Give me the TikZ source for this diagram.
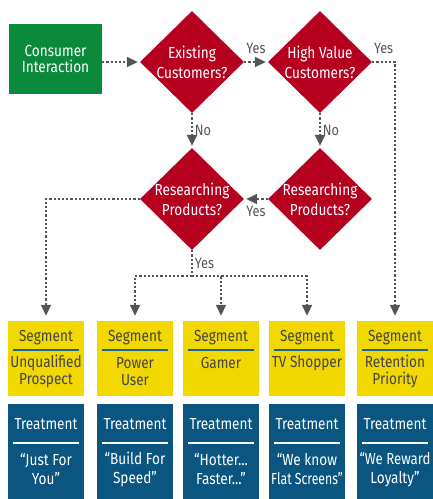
\documentclass[tikz,border=0pt]{standalone}
\usepackage{fontspec}
\setmainfont[FakeStretch=0.85]{Fira Sans}
\usetikzlibrary{shapes.geometric,arrows.meta,positioning}

\definecolor{cigreen}{HTML}{0B8A3C}
\definecolor{decred}{HTML}{B50020}
\definecolor{segyellow}{HTML}{F0D800}
\definecolor{treatblue}{HTML}{0A5681}
\definecolor{ruleblue}{HTML}{1E6491}
\definecolor{flowgray}{HTML}{555555}
\definecolor{segtext}{HTML}{454545}

\tikzset{
  startbox/.style={fill=cigreen, text=white, minimum width=93pt, minimum height=70pt,
    align=center, font=\fontsize{16}{16}\selectfont},
  decision/.style={diamond, fill=decred, text=white, minimum width=104pt, minimum height=102pt,
    inner sep=-8pt, align=center, font=\fontsize{16}{20}\selectfont},
  flow/.style={draw=flowgray, line width=1.6pt, dash pattern=on 2.2pt off 2pt},
  flowarrow/.style={flow, -{Triangle[width=10pt,length=11pt]}, shorten >=2pt},
  flowlabel/.style={text=flowgray, inner sep=2pt, font=\fontsize{15}{15}\selectfont},
  segbox/.style={fill=segyellow, minimum width=76pt, minimum height=75pt},
  seghead/.style={text=segtext, minimum width=65pt, minimum height=24pt, inner sep=0pt,
    font=\fontsize{16}{16}\selectfont},
  segbody/.style={text=segtext, align=center, inner sep=0pt, font=\fontsize{16}{17}\selectfont},
  segrule/.style={draw=ruleblue, line width=1.5pt},
  treatbox/.style={fill=treatblue, minimum width=76pt, minimum height=95pt},
  treathead/.style={text=white, minimum width=65pt, minimum height=38pt, inner sep=0pt,
    font=\fontsize{16}{16}\selectfont},
  treatbody/.style={text=white, align=center, inner sep=0pt, font=\fontsize{16}{19}\selectfont},
  treatrule/.style={draw=white, line width=1.5pt}
}

\begin{document}
\begin{tikzpicture}[x=1pt, y=-1pt]
  \useasboundingbox (0,0) rectangle (432,499);

  % decisions
  \node[startbox] (consumer) at (55.5,59) {Consumer\\Interaction};
  \node[decision] (existing) at (192,62) {Existing\\Customers?};
  \node[decision] (highvalue) at (320,62) {High Value\\Customers?};
  \node[decision] (research1) at (192,199) {Researching\\Products?};
  \node[decision] (research2) at (320,199) {Researching\\Products?};
  \coordinate (split) at (192,276);

  % segments
  \node[segbox] (seg1) at (46,358.5) {};
  \node[seghead] (seg1h) at (46,338) {Segment};
  \node[segbody] (seg1b) at (46,371.5) {Unqualified\\Prospect};
  \node[segbox] (seg2) at (135,358.5) {};
  \node[seghead] (seg2h) at (135,338) {Segment};
  \node[segbody] (seg2b) at (135,371.5) {Power\\User};
  \node[segbox] (seg3) at (221,358.5) {};
  \node[seghead] (seg3h) at (221,338) {Segment};
  \node[segbody] (seg3b) at (221,363) {Gamer};
  \node[segbox] (seg4) at (307,358.5) {};
  \node[seghead] (seg4h) at (307,338) {Segment};
  \node[segbody] (seg4b) at (307,363) {TV Shopper};
  \node[segbox] (seg5) at (395,358.5) {};
  \node[seghead] (seg5h) at (395,338) {Segment};
  \node[segbody] (seg5b) at (395,371.5) {Retention\\Priority};
  \foreach \n in {seg1h,seg2h,seg3h,seg4h,seg5h}
    \draw[segrule] (\n.south west) -- (\n.south east);

  % treatments
  \node[treatbox] (treat1) at (46,451.5) {};
  \node[treathead] (treat1h) at (46,424) {Treatment};
  \node[treatbody] (treat1b) at (46,469.5) {“Just For\\You”};
  \node[treatbox] (treat2) at (135,451.5) {};
  \node[treathead] (treat2h) at (135,424) {Treatment};
  \node[treatbody] (treat2b) at (135,469.5) {“Build For\\Speed”};
  \node[treatbox] (treat3) at (221,451.5) {};
  \node[treathead] (treat3h) at (221,424) {Treatment};
  \node[treatbody] (treat3b) at (221,469.5) {“Hotter...\\Faster...”};
  \node[treatbox] (treat4) at (307,451.5) {};
  \node[treathead] (treat4h) at (307,424) {Treatment};
  \node[treatbody] (treat4b) at (307,469.5) {“We know\\\scalebox{0.9}[1]{Flat Screens”}};
  \node[treatbox] (treat5) at (395,451.5) {};
  \node[treathead] (treat5h) at (395,424) {Treatment};
  \node[treatbody] (treat5b) at (395,469.5) {\scalebox{0.97}[1]{“We Reward}\\Loyalty”};
  \foreach \n in {treat1h,treat2h,treat3h,treat4h,treat5h}
    \draw[treatrule] (\n.south west) -- (\n.south east);

  % connectors
  \draw[flowarrow] (consumer.east |- existing.west) -- (existing.west);
  \draw[flowarrow] (existing.east) -- node[flowlabel,above=6pt] {Yes} (highvalue.west);
  \draw[flowarrow, shorten >=5pt] (highvalue.east) -| node[flowlabel,above=6pt,pos=0.25] {Yes} (seg5.north);
  \draw[flowarrow] (existing.south) -- node[flowlabel,right] {No} (research1.north);
  \draw[flowarrow] (highvalue.south) -- node[flowlabel,right] {No} (research2.north);
  \draw[flowarrow] (research2.west) -- node[flowlabel,below=4pt] {Yes} (research1.east);
  \draw[flowarrow, shorten >=5pt] (research1.west) -| (seg1.north);
  \draw[flow] (research1.south) -- node[flowlabel,right] {Yes} (split);
  \draw[flowarrow, shorten >=5pt] (split) -| (seg2.north);
  \draw[flowarrow, shorten >=5pt] (split) -| (seg3.north);
  \draw[flowarrow, shorten >=5pt] (split) -| (seg4.north);
\end{tikzpicture}
\end{document}
